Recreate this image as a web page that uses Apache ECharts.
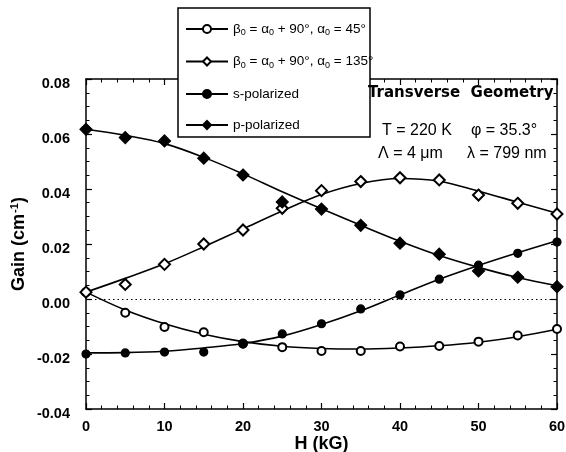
<!DOCTYPE html>
<html>
<head>
<meta charset="utf-8">
<script src="https://cdn.jsdelivr.net/npm/echarts@6/dist/echarts.min.js"></script>
<style>
  html, body { margin: 0; padding: 0; background: #fff; }
  #chart { width: 566px; height: 452px; }
</style>
</head>
<body>
<div id="chart"></div>
<script>
// Magnetic field (kG)
const fieldH = [0, 5, 10, 15, 20, 25, 30, 35, 40, 45, 50, 55, 60];

// Measured gain (cm^-1)
const gainA45 = [0.0025, -0.0050, -0.0102, -0.0121, -0.0162, -0.0175, -0.0189, -0.0189, -0.0173, -0.0171, -0.0155, -0.0133, -0.0109];
const gainA135 = [0.0025, 0.0053, 0.0126, 0.0200, 0.0251, 0.0330, 0.0394, 0.0427, 0.0441, 0.0433, 0.0378, 0.0348, 0.0309];
const gainS = [-0.0200, -0.0196, -0.0193, -0.0193, -0.0164, -0.0127, -0.0090, -0.0036, 0.0015, 0.0072, 0.0123, 0.0166, 0.0207];
const gainP = [0.0617, 0.0587, 0.0575, 0.0512, 0.0451, 0.0353, 0.0327, 0.0268, 0.0203, 0.0163, 0.0102, 0.0079, 0.0045];

// Theoretical curves at the same fields
const fitA45 = [0.0025, -0.0040, -0.0090, -0.0128, -0.0155, -0.0172, -0.0180, -0.0182, -0.0178, -0.0170, -0.0157, -0.0137, -0.0110];
const fitA135 = [0.0025, 0.0075, 0.0128, 0.0190, 0.0255, 0.0320, 0.0380, 0.0420, 0.0438, 0.0428, 0.0392, 0.0352, 0.0312];
const fitS = [-0.0196, -0.0195, -0.0190, -0.0178, -0.0162, -0.0135, -0.0093, -0.0043, 0.0015, 0.0072, 0.0122, 0.0168, 0.0212];
const fitP = [0.0617, 0.0595, 0.0565, 0.0515, 0.0455, 0.0390, 0.0328, 0.0268, 0.0210, 0.0158, 0.0115, 0.0078, 0.0048];

const yTicks = [-0.04, -0.02, 0.00, 0.02, 0.04, 0.06, 0.08];
const xTicks = [0, 10, 20, 30, 40, 50, 60];

const FONT = '"Liberation Sans", Arial, sans-serif';
const pair = (xs, ys) => xs.map((x, i) => [x, ys[i]]);

const seriesDefs = [
  { name: 'a45', fit: fitA45, pts: gainA45, symbol: 'emptyCircle', size: 8 },
  { name: 'a135', fit: fitA135, pts: gainA135, symbol: 'emptyDiamond', size: 11 },
  { name: 's', fit: fitS, pts: gainS, symbol: 'circle', size: 8 },
  { name: 'p', fit: fitP, pts: gainP, symbol: 'diamond', size: 12 }
];

const legendText = {
  a45: '{t|β}{s|0}{t| = α}{s|0}{t| + 90°, α}{s|0}{t| = 45°}',
  a135: '{t|β}{s|0}{t| = α}{s|0}{t| + 90°, α}{s|0}{t| = 135°}',
  s: '{t|s-polarized}',
  p: '{t|p-polarized}'
};

const series = [];
seriesDefs.forEach(d => {
  series.push({
    name: d.name,
    type: 'line',
    smooth: 0.35,
    data: pair(fieldH, d.fit),
    showSymbol: false,
    symbol: d.symbol,
    symbolSize: d.size,
    lineStyle: { color: '#000', width: 1.6 },
    itemStyle: { color: '#000', borderColor: '#000', borderWidth: 1.2, opacity: 1 },
    z: 3
  });
  series.push({
    name: d.name,
    type: 'scatter',
    data: pair(fieldH, d.pts),
    symbol: d.symbol,
    symbolSize: d.size,
    itemStyle: { color: '#000', borderColor: '#000', borderWidth: 1.2, opacity: 1 },
    z: 4
  });
});

// zero reference line
series[0].markLine = {
  silent: true,
  symbol: 'none',
  label: { show: false },
  lineStyle: { color: '#000', type: [1.5, 3], width: 1 },
  data: [{ yAxis: 0 }]
};

const axisCommon = {
  axisLine: { show: true, onZero: false, lineStyle: { color: '#000', width: 1.5 } },
  axisTick: { show: true, inside: true, length: 6, lineStyle: { color: '#000', width: 1.2 } },
  minorTick: { show: true, length: 3.5, lineStyle: { color: '#000', width: 1 } },
  splitLine: { show: false }
};

const option = {
  animation: false,
  backgroundColor: '#fff',
  textStyle: { fontFamily: FONT },
  grid: { left: 86, right: 9, top: 79, bottom: 43, containLabel: false, outerBoundsMode: 'none' },
  xAxis: [
    Object.assign({}, axisCommon, {
      type: 'value', min: xTicks[0], max: xTicks[xTicks.length - 1], interval: 10,
      position: 'bottom',
      minorTick: Object.assign({}, axisCommon.minorTick, { splitNumber: 5 }),
      name: 'H (kG)', nameLocation: 'middle', nameGap: 26, nameMoveOverlap: false,
      nameTextStyle: { fontSize: 18, fontWeight: 'bold', color: '#000', fontFamily: FONT },
      axisLabel: { color: '#000', fontSize: 14.5, fontWeight: 'bold', margin: 10, fontFamily: FONT }
    }),
    Object.assign({}, axisCommon, {
      type: 'value', min: xTicks[0], max: xTicks[xTicks.length - 1], interval: 10,
      position: 'top',
      minorTick: Object.assign({}, axisCommon.minorTick, { splitNumber: 5 }),
      axisLabel: { show: false }
    })
  ],
  yAxis: [
    Object.assign({}, axisCommon, {
      type: 'value', min: yTicks[0], max: yTicks[yTicks.length - 1], interval: 0.02,
      position: 'left',
      minorTick: Object.assign({}, axisCommon.minorTick, { splitNumber: 4 }),
      name: '{t|Gain (cm}{u|-1}{t|)}', nameLocation: 'middle', nameGap: 57, nameRotate: 90,
      nameMoveOverlap: false,
      nameTextStyle: {
        color: '#000', fontFamily: FONT,
        rich: {
          t: { fontSize: 18, fontWeight: 'bold', color: '#000', fontFamily: FONT },
          u: { fontSize: 11, fontWeight: 'bold', color: '#000', fontFamily: FONT, padding: [0, 0, 9, 1] }
        }
      },
      axisLabel: {
        color: '#000', fontSize: 14.5, fontWeight: 'bold', margin: 16, fontFamily: FONT,
        verticalAlign: 'top', lineHeight: 9,
        formatter: v => v.toFixed(2)
      }
    }),
    Object.assign({}, axisCommon, {
      type: 'value', min: yTicks[0], max: yTicks[yTicks.length - 1], interval: 0.02,
      position: 'right',
      minorTick: Object.assign({}, axisCommon.minorTick, { splitNumber: 4 }),
      axisLabel: { show: false }
    })
  ],
  legend: {
    orient: 'vertical',
    left: 185, top: 22,
    itemWidth: 42, itemHeight: 10,
    itemGap: 17,
    padding: 0,
    z: 20,
    data: seriesDefs.map(d => d.name),
    formatter: name => legendText[name],
    textStyle: {
      color: '#000', fontFamily: FONT,
      rich: {
        t: { fontSize: 13.5, color: '#000', fontFamily: FONT },
        s: { fontSize: 9, color: '#000', fontFamily: FONT, padding: [8, 0, 0, 0] }
      }
    }
  },
  graphic: [
    {
      type: 'rect', z: 15,
      shape: { x: 178, y: 8, width: 192, height: 129 },
      style: { fill: '#fff', stroke: '#000', lineWidth: 1.5 }
    },
    {
      type: 'text', z: 15, left: 368, top: 86,
      style: { text: 'Transverse  Geometry', font: 'bold 15px "DejaVu Sans"', fill: '#000' }
    },
    {
      type: 'text', z: 15, left: 382, top: 123,
      style: { text: 'T = 220 K', font: '16px ' + FONT, fill: '#000' }
    },
    {
      type: 'text', z: 15, left: 471, top: 123,
      style: { text: 'φ = 35.3°', font: '16px ' + FONT, fill: '#000' }
    },
    {
      type: 'text', z: 15, left: 378, top: 146,
      style: { text: 'Λ = 4 μm', font: '16px ' + FONT, fill: '#000' }
    },
    {
      type: 'text', z: 15, left: 467, top: 146,
      style: { text: 'λ = 799 nm', font: '16px ' + FONT, fill: '#000' }
    }
  ],
  series: series
};

const chart = echarts.init(document.getElementById('chart'), null, { renderer: 'canvas' });
chart.setOption(option);
</script>
</body>
</html>
